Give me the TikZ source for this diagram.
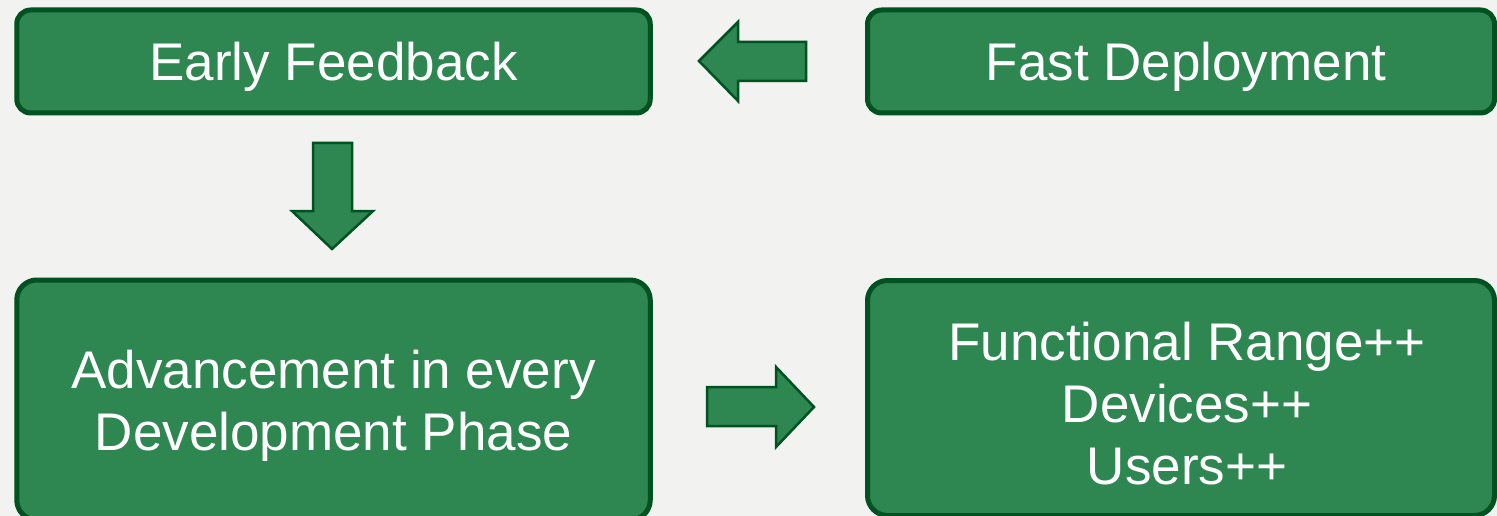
\documentclass[tikz,border=0pt]{standalone}
\usepackage{fontspec}
\setmainfont{Liberation Sans}
\begin{document}
\definecolor{bg}{RGB}{242,242,240}
\definecolor{boxfill}{RGB}{46,134,80}
\definecolor{boxline}{RGB}{0,82,32}
\begin{tikzpicture}[x=1pt,y=-1pt,
  stepbox/.style={draw=boxline,fill=boxfill,line width=5pt,rounded corners=#1,
    inner sep=0pt},
  stepbox/.default=14pt,
  steptext/.style={text=white,align=center,inner sep=0pt,
    font=\fontsize{53}{62}\selectfont},
  blockarrow/.style={draw=boxline,fill=boxfill,line width=2.5pt,line join=miter}]
  % canvas
  \fill[bg] (0,0) rectangle (1497,516);
  \useasboundingbox (0,0) rectangle (1497,516);

  % boxes
  \node[stepbox, minimum width=633.5pt, minimum height=103pt] (feedback) at (333.5,61.5) {};
  \node[stepbox, minimum width=627pt, minimum height=103pt] (deploy) at (1181,61.5) {};
  \node[stepbox=20pt, minimum width=633.5pt, minimum height=240pt] (advance) at (333.5,400) {};
  \node[stepbox=20pt, minimum width=627pt, minimum height=235pt] (range) at (1181,398) {};

  % box captions
  \node[steptext] (feedbacktext) at ([yshift=-5pt]feedback.center) {Early Feedback};
  \node[steptext] (deploytext) at ([xshift=5pt,yshift=-5pt]deploy.center) {Fast Deployment};
  \node[steptext] (advancetext) at ([yshift=-6pt]advance.center) {Advancement in every\\Development Phase};
  \node[steptext] (rangetext) at ([xshift=6pt,yshift=-6pt]range.center) {Functional Range++\\Devices++\\Users++};

  % block arrows between the boxes
  \draw[blockarrow] (699,61) -- (738,22) -- (738,42) -- (806,42) -- (806,81) -- (738,81) -- (738,101) -- cycle;
  \draw[blockarrow] (332,249) -- (292,211) -- (313,211) -- (313,143) -- (352,143) -- (352,211) -- (373,211) -- cycle;
  \draw[blockarrow] (814,407) -- (776,367) -- (776,387) -- (707,387) -- (707,426) -- (776,426) -- (776,447) -- cycle;
\end{tikzpicture}
\end{document}
